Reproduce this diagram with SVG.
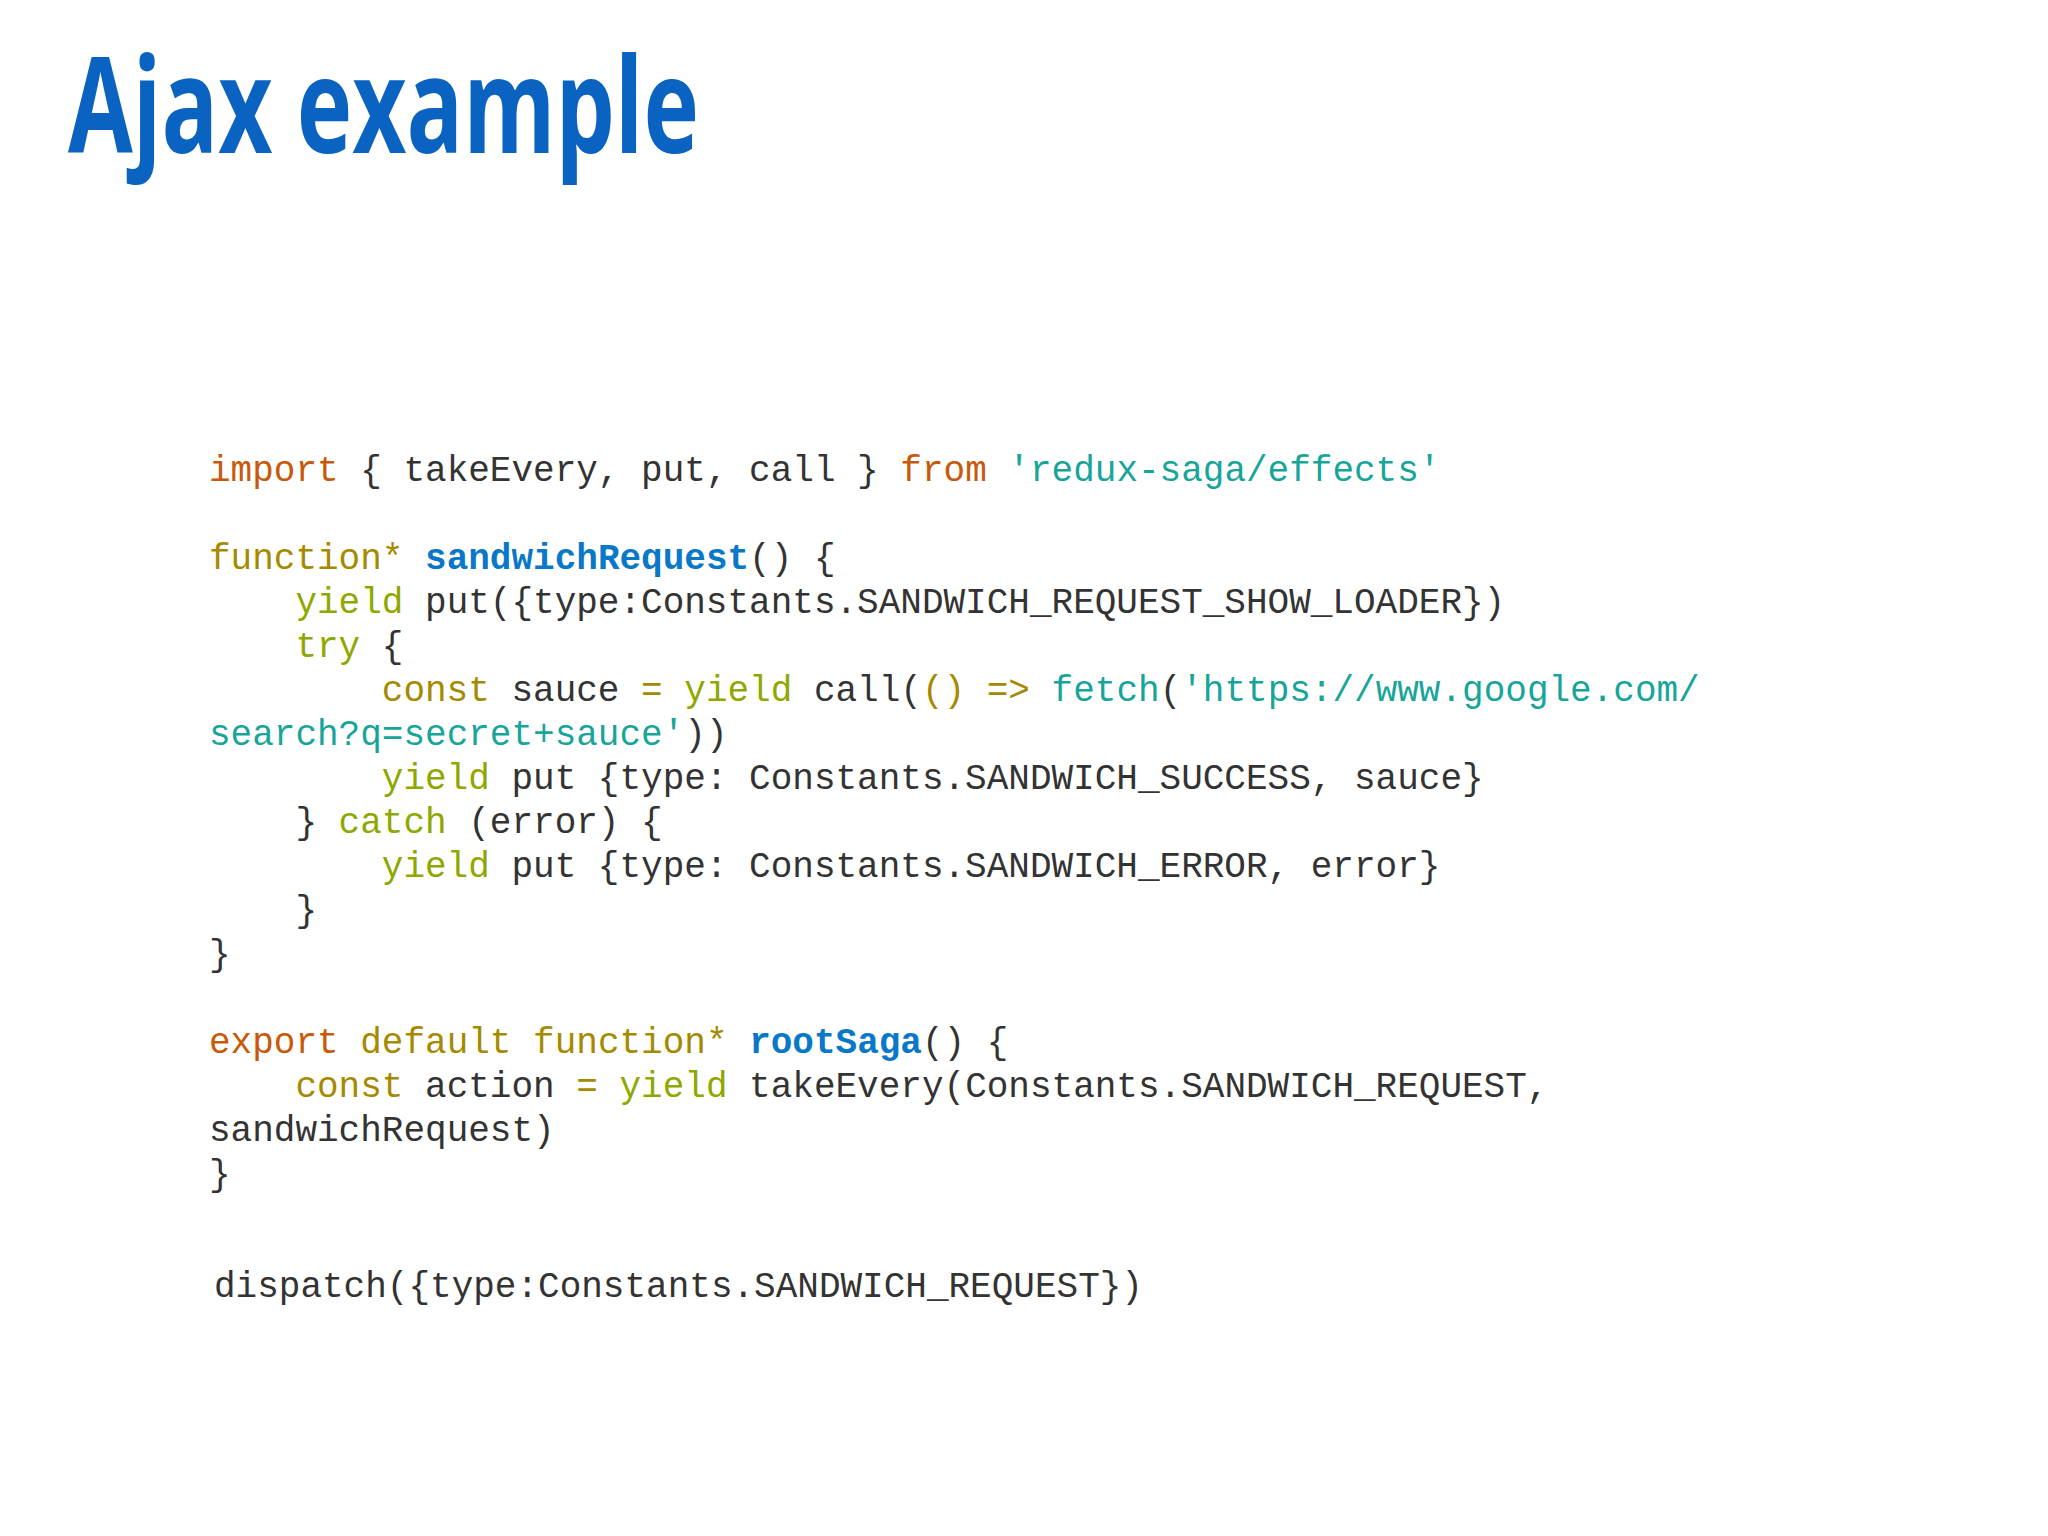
<svg xmlns="http://www.w3.org/2000/svg" width="2048" height="1536" viewBox="0 0 2048 1536">
<style>
.c{font-family:"Liberation Mono","Courier New",monospace;font-size:36px;fill:#333}
.k{fill:#c8590a}.o{fill:#a58a00}.y{fill:#8ea800}.s{fill:#17a59a}.f{fill:#0a78c8;font-weight:bold}
</style>
<rect width="2048" height="1536" fill="#fff"/>
<g id="title"><text x="68" y="153" font-family="Open Sans, sans-serif" font-weight="bold" font-size="133" fill="#0a63c0" textLength="631" lengthAdjust="spacingAndGlyphs">Ajax example</text></g>
<g id="code" class="c" xml:space="preserve">
<text x="209" y="481"><tspan class="k">import</tspan> { takeEvery, put, call } <tspan class="k">from</tspan> <tspan class="s">'redux-saga/effects'</tspan></text>
<text x="209" y="569"><tspan class="o">function*</tspan> <tspan class="f">sandwichRequest</tspan>() {</text>
<text x="295.4" y="613"><tspan class="y">yield</tspan> put({type:Constants.SANDWICH_REQUEST_SHOW_LOADER})</text>
<text x="295.4" y="657"><tspan class="y">try</tspan> {</text>
<text x="381.8" y="701"><tspan class="o">const</tspan> sauce <tspan class="o">=</tspan> <tspan class="y">yield</tspan> call(<tspan class="o">()</tspan> <tspan class="o">=&gt;</tspan> <tspan class="s">fetch</tspan>(<tspan class="s">'https://www.google.com/</tspan></text>
<text x="209" y="745"><tspan class="s">search?q=secret+sauce'</tspan>))</text>
<text x="381.8" y="789"><tspan class="y">yield</tspan> put {type: Constants.SANDWICH_SUCCESS, sauce}</text>
<text x="295.4" y="833">} <tspan class="y">catch</tspan> (error) {</text>
<text x="381.8" y="877"><tspan class="y">yield</tspan> put {type: Constants.SANDWICH_ERROR, error}</text>
<text x="295.4" y="921">}</text>
<text x="209" y="965">}</text>
<text x="209" y="1053"><tspan class="k">export</tspan> <tspan class="o">default</tspan> <tspan class="o">function*</tspan> <tspan class="f">rootSaga</tspan>() {</text>
<text x="295.4" y="1097"><tspan class="o">const</tspan> action <tspan class="o">=</tspan> <tspan class="y">yield</tspan> takeEvery(Constants.SANDWICH_REQUEST,</text>
<text x="209" y="1141">sandwichRequest)</text>
<text x="209" y="1185">}</text>
<text x="214" y="1297">dispatch({type:Constants.SANDWICH_REQUEST})</text>
</g>
</svg>
